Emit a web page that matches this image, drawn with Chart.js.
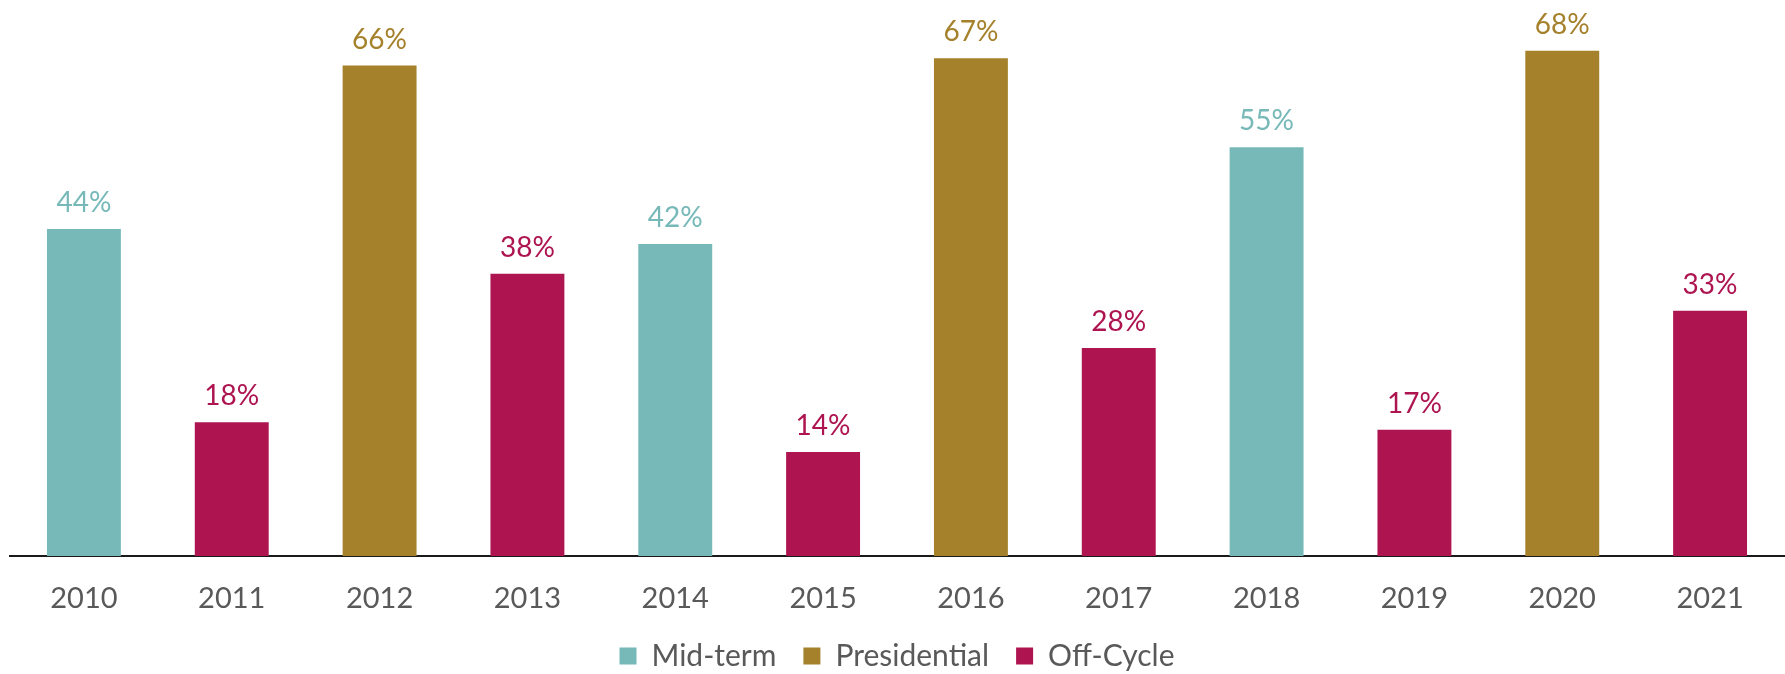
<!DOCTYPE html>
<html>
<head>
<meta charset="utf-8">
<script src="https://cdn.jsdelivr.net/npm/chart.js@4/dist/chart.umd.min.js"></script>
<style>
  html, body { margin: 0; padding: 0; background: #fff; }
  #wrap { width: 1785px; height: 674px; position: relative; }
</style>
</head>
<body>
<div id="wrap"><canvas id="turnout"></canvas></div>
<script>
"use strict";
// chart data
let years = ["2010", "2011", "2012", "2013", "2014", "2015", "2016", "2017", "2018", "2019", "2020", "2021"];
let turnout = [44, 18, 66, 38, 42, 14, 67, 28, 55, 17, 68, 33];
let cycle = ["Mid-term", "Off-Cycle", "Presidential", "Off-Cycle", "Mid-term", "Off-Cycle",
  "Presidential", "Off-Cycle", "Mid-term", "Off-Cycle", "Presidential", "Off-Cycle"];
let cycleNames = ["Mid-term", "Presidential", "Off-Cycle"];
let cycleColors = ["#76b9b8", "#a5812b", "#ad1450"];

// one dataset per cycle type, nulls skipped so bars stay centred
function buildDatasets() {
  let sets = [];
  for (let c = 0; c < cycleNames.length; c++) {
    let data = [];
    for (let i = 0; i < years.length; i++) {
      data.push(cycle[i] === cycleNames[c] ? turnout[i] : null);
    }
    sets.push({
      label: cycleNames[c],
      data: data,
      backgroundColor: cycleColors[c],
      borderWidth: 0,
      skipNull: true,
      barPercentage: 0.5,
      categoryPercentage: 1,
    });
  }
  return sets;
}

// value labels above each bar
let valueLabels = {
  id: "valueLabels",
  afterDatasetsDraw(chart) {
    let ctx = chart.ctx;
    ctx.save();
    ctx.font = "28px Lato";
    ctx.textAlign = "center";
    ctx.textBaseline = "alphabetic";
    chart.data.datasets.forEach(function (ds, d) {
      let meta = chart.getDatasetMeta(d);
      meta.data.forEach(function (bar, i) {
        if (ds.data[i] === null) return;
        ctx.fillStyle = ds.backgroundColor;
        ctx.fillText(Math.round(ds.data[i]) + "%", bar.x, bar.y - 17);
      });
    });
    ctx.restore();
  },
};

let ctx = document.getElementById("turnout").getContext("2d");
let myChart = new Chart(ctx, {
  type: "bar",
  data: {
    labels: years,
    datasets: buildDatasets(),
  },
  options: {
    responsive: true,
    maintainAspectRatio: false,
    animation: false,
    layout: { padding: { top: 21, left: 10, right: 1, bottom: -7 } },
    scales: {
      x: {
        grid: { display: false, drawTicks: false },
        border: { display: true, color: "#1a1a1a", width: 2 },
        ticks: { color: "#595959", font: { family: "Lato", size: 29, lineHeight: 1.1 }, padding: 27 },
        afterFit(scale) {
          scale.height = 58;
        },
      },
      y: {
        display: false,
        min: 0,
        max: 72,
      },
    },
    plugins: {
      tooltip: { enabled: false },
      legend: {
        position: "bottom",
        labels: {
          color: "#595959",
          font: { family: "Lato", size: 30 },
          boxWidth: 17,
          boxHeight: 17,
          padding: 27,
        },
      },
    },
  },
  plugins: [valueLabels],
});
</script>
</body>
</html>
